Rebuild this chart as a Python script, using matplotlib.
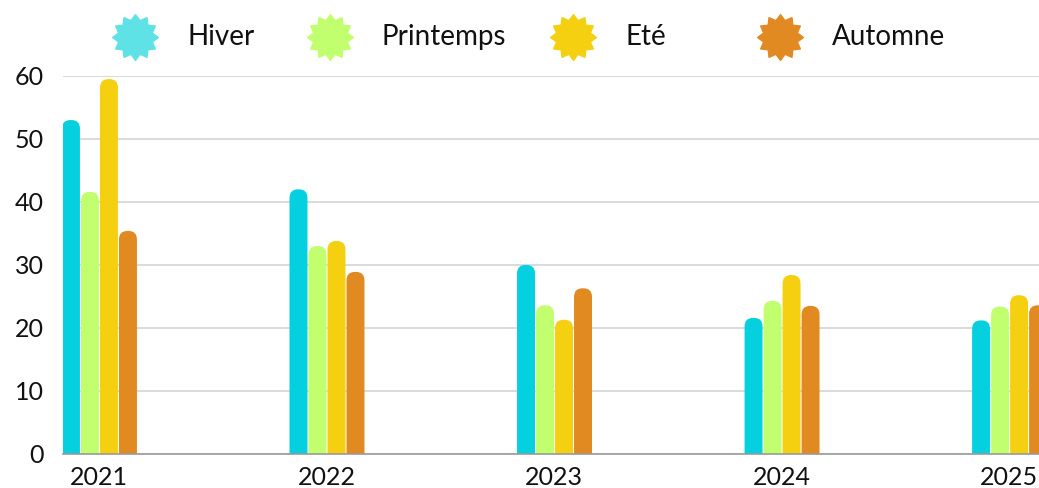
import matplotlib
matplotlib.use('Agg')
import matplotlib.pyplot as plt
import numpy as np
from matplotlib.patches import FancyBboxPatch
from matplotlib.lines import Line2D

# donnees
years = ['2021', '2022', '2023', '2024', '2025']
seasons = ['Hiver', 'Printemps', 'Eté', 'Automne']
hiver = [53, 42, 30, 21.6, 21.2]
printemps = [41.6, 33, 23.6, 24.3, 23.4]
ete = [59.5, 33.8, 21.3, 28.4, 25.2]
automne = [35.4, 28.9, 26.3, 23.5, 23.6]

colors = ['#05D0E0', '#C2FF6E', '#F5D010', '#E28A22']
legend_colors = ['#5EE2E6', '#C2FF6E', '#F5D010', '#E28A22']

plt.rcParams['font.family'] = ['Lato', 'DejaVu Sans']

fig = plt.figure(figsize=(10.39, 4.88), dpi=100)
ax = fig.add_axes([0.0606, 0.0697, 0.9394, 0.7747])

step = 0.0835
width = 0.079
x = np.arange(len(years))
ax.set_xlim(-0.1626, 4.127)
ax.set_ylim(0, 60)

# rayon des coins en pixels -> unites de donnees
px_x = 0.9394 * 1039 / (4.127 + 0.1626)
px_y = 0.7747 * 488 / 60
r_px = 8.5
aspect = (r_px / px_y) / (r_px / px_x)

for j, vals in enumerate([hiver, printemps, ete, automne]):
    for i, v in enumerate(vals):
        left = x[i] + (j - 2) * step
        p = FancyBboxPatch((left, -2), width, v + 2,
                           boxstyle='round,pad=0,rounding_size=%f' % (r_px / px_x),
                           mutation_aspect=aspect,
                           facecolor=colors[j], edgecolor='none', zorder=3)
        ax.add_patch(p)

ax.set_yticks(np.arange(0, 61, 10))
ax.set_xticks(x - step * 0.04)
ax.set_xticklabels(years)
ax.tick_params(axis='both', length=0, labelsize=18, colors='#111111')
ax.tick_params(axis='y', pad=14)
ax.tick_params(axis='x', pad=9)
ax.grid(axis='y', color='#d4d4d4', linewidth=1.2, zorder=0)
ax.set_axisbelow(True)
for s in ['top', 'right', 'left']:
    ax.spines[s].set_visible(False)
ax.spines['bottom'].set_color('#999999')
ax.spines['bottom'].set_linewidth(1.2)
ax.spines['bottom'].set_zorder(4)

# etoile a 12 branches pour la legende
n = 12
ang = np.linspace(0, 2 * np.pi, 2 * n, endpoint=False) + np.pi / 2
rad = np.where(np.arange(2 * n) % 2 == 0, 1.0, 0.76)
star = list(zip(rad * np.cos(ang), rad * np.sin(ang)))
star.append(star[0])

star_x = [135, 330, 573, 780]
text_x = [187, 381, 625, 832]
ly = 1 - 37 / 488
for k in range(4):
    fig.add_artist(Line2D([star_x[k] / 1039], [ly], marker=star, markersize=33,
                          color=legend_colors[k], linestyle='none',
                          transform=fig.transFigure))
    fig.text(text_x[k] / 1039, ly, seasons[k], fontsize=20, va='center',
             ha='left', color='#111111')

fig.savefig('out.png', dpi=100)
